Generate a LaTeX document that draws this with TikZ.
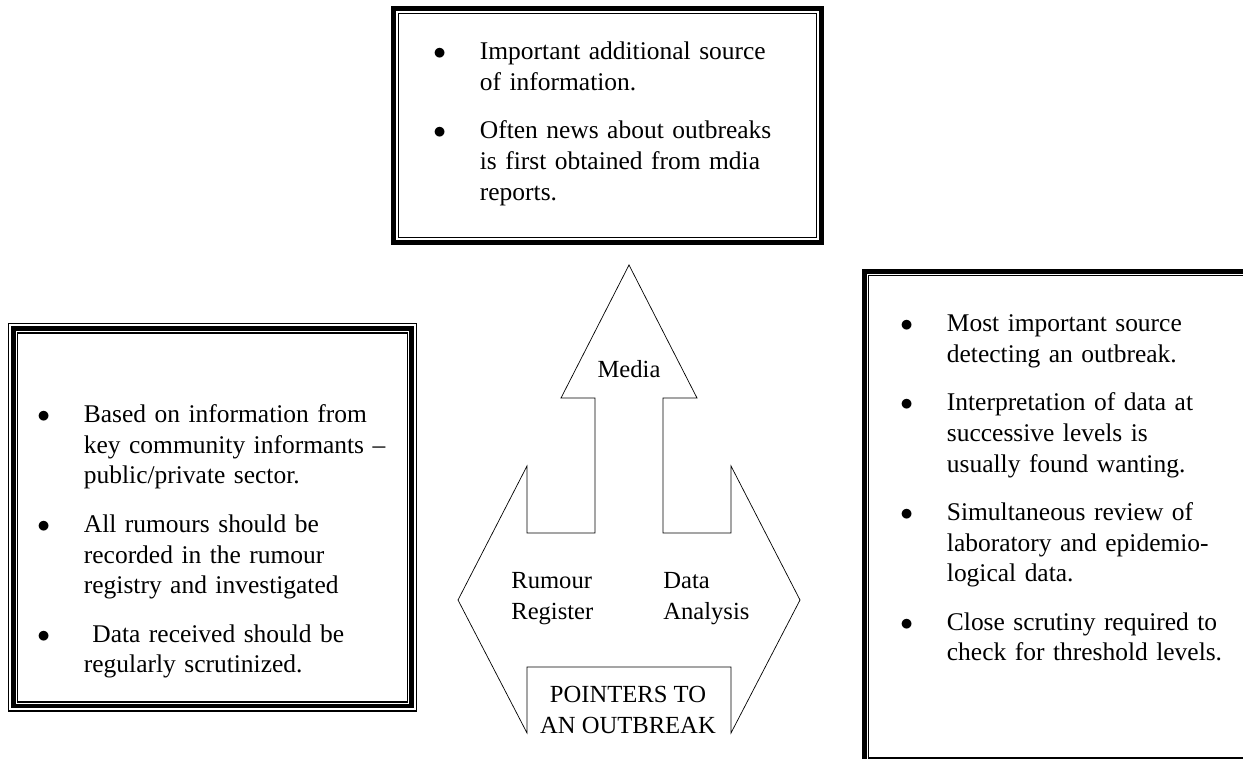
\documentclass[tikz,border=0pt]{standalone}
\usepackage{fontspec}
\setmainfont{Liberation Serif}
\newcommand{\bitem}[1]{\par\noindent\hangindent=26.5pt\hangafter=1\makebox[26.5pt][l]{\strut$\bullet$}#1\par\vspace{10pt}}
\tikzset{
    heavy/.style={line width=2.8pt},
    hair/.style={line width=0.6pt},
    boxtext/.style={anchor=north west,inner sep=0pt,text width=9cm,font=\fontsize{14.5}{17.5}\selectfont},
    arrowtext/.style={inner sep=0pt,font=\fontsize{14}{17.5}\selectfont}
}
\begin{document}
\begin{tikzpicture}[x=0.02cm,y=-0.02cm]
    \useasboundingbox (0,0) rectangle (1243,759);
    \draw[heavy] (393.5,8.5) rectangle (821.5,242.5);
    \draw[hair] (398.5,13.5) rectangle (816.5,237.5);
    \node[boxtext] (topnotes) at (433,28.4) {%
        \bitem{Important additional source\newline of information.}
        \bitem{Often news about outbreaks\newline is first obtained from mdia\newline reports.}};
    \draw[hair] (8.5,323.5) rectangle (416.2,711);
    \draw[heavy] (13.5,328.5) rectangle (411.7,706);
    \draw[hair] (17.5,333) rectangle (407.2,702);
    \node[boxtext] (leftnotes) at (37,391.4) {%
        \bitem{Based on information from\newline key community informants --\newline public/private sector.}
        \bitem{All rumours should be\newline recorded in the rumour\newline registry and investigated}
        \bitem{\ Data received should be\newline regularly scrutinized.}};
    \draw[heavy] (864.5,271.5) rectangle (1260,780);
    \draw[hair] (868.5,275.5) rectangle (1255,758);
    \node[boxtext] (rightnotes) at (900,300.4) {%
        \bitem{Most important source\newline detecting an outbreak.}
        \bitem{Interpretation of data at\newline successive levels is\newline usually found wanting.}
        \bitem{Simultaneous review of\newline laboratory and epidemio-\newline logical data.}
        \bitem{Close scrutiny required to\newline check for threshold levels.}};
    \draw (527,733) -- (527,667) -- (731,667) -- (731,733) -- (800,600) -- (731,466)
        -- (731,533) -- (663,533) -- (663,398) -- (697,398) -- (629,265) -- (561,398)
        -- (595,398) -- (595,533) -- (527,533) -- (527,466) -- (458,600) -- cycle;
    \node[arrowtext,anchor=base] (media) at (629,378) {Media};
    \node[arrowtext,anchor=north west,align=left] (rumour) at (511,566.4) {\strut Rumour\\Register};
    \node[arrowtext,anchor=north west,align=left] (analysis) at (663,566.4) {\strut Data\\Analysis};
    \node[arrowtext,anchor=north,align=center] (pointers) at (628,680.4) {\strut POINTERS TO\\AN OUTBREAK};
\end{tikzpicture}
\end{document}
